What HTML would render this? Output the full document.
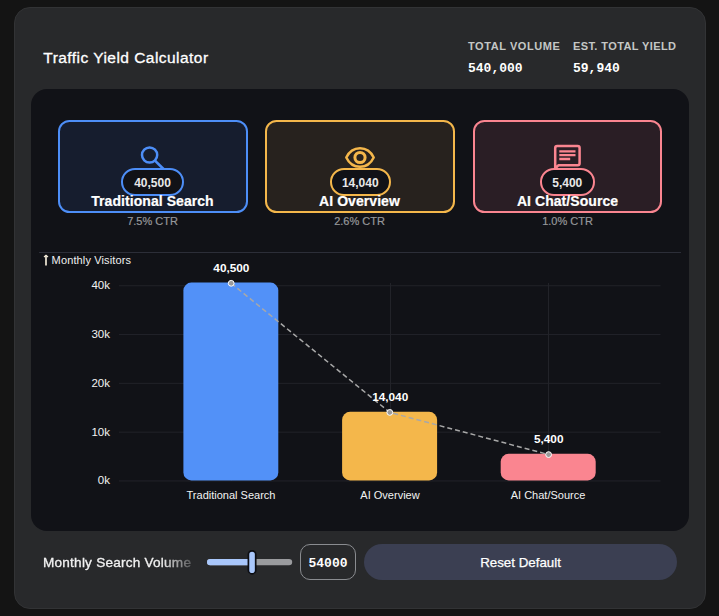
<!DOCTYPE html>
<html>
<head>
<meta charset="utf-8">
<title>Traffic Yield Calculator</title>
<style>
*{box-sizing:border-box;margin:0;padding:0}
html,body{width:719px;height:616px;overflow:hidden;background:#141414;font-family:"Liberation Sans",sans-serif;color:#fff}
.abs{position:absolute}
#card{position:absolute;left:14px;top:7px;width:692px;height:601.6px;background:#28292b;border:1px solid #323335;border-radius:16px}
#title{position:absolute;left:43.3px;top:47.6px;font-size:15.5px;line-height:20px;color:#fff;white-space:nowrap;letter-spacing:0.46px;-webkit-text-stroke:0.3px #fff}
.statlab{position:absolute;top:40px;font-size:11px;line-height:12px;font-weight:bold;color:#c4c7c5;letter-spacing:0.5px;white-space:nowrap}
.statval{position:absolute;top:61.5px;font-family:"Liberation Mono",monospace;font-weight:bold;font-size:13px;line-height:14px;color:#fff;white-space:nowrap}
#panel{position:absolute;left:31px;top:89.1px;width:658px;height:442.2px;background:#111217;border-radius:16px}
.kcard{position:absolute;top:120px;width:189.6px;height:93.3px;border:2.2px solid;border-radius:11.5px}
.pill{position:absolute;top:168px;height:28px;border:2px solid;border-radius:14px;background:#111217;font-size:12px;font-weight:bold;line-height:27px;text-align:center;color:#e8e8e8}
.ktitle{position:absolute;top:191.5px;width:189px;text-align:center;font-size:14px;line-height:18px;font-weight:bold;color:#fff;white-space:nowrap;letter-spacing:0.06px;-webkit-text-stroke:0.2px #fff}
.kctr{position:absolute;top:214.3px;width:189px;text-align:center;font-size:11px;line-height:14px;color:#96989b;white-space:nowrap;-webkit-text-stroke:0.2px #96989b}
#sep{position:absolute;left:39px;top:252px;width:642px;height:1px;background:#2c2e38}
#ylab{position:absolute;left:51.6px;top:254px;font-size:11px;line-height:13px;color:#f0f0f0;white-space:nowrap;letter-spacing:0.13px}
.ytick{position:absolute;left:60px;width:50px;text-align:right;font-size:11.5px;line-height:13px;color:#f2f2f2}
.xtick{position:absolute;top:489px;width:160px;text-align:center;font-size:11px;line-height:13px;color:#f2f2f2;white-space:nowrap}
.blab{position:absolute;width:100px;text-align:center;font-size:11.8px;line-height:13px;font-weight:bold;color:#fff}
#foot{position:absolute;left:43px;top:553.9px;font-size:13.6px;line-height:17px;color:#f2f2f2;-webkit-text-stroke:0.3px #f2f2f2;letter-spacing:0.22px;white-space:nowrap;width:148px;overflow:hidden;-webkit-mask-image:linear-gradient(90deg,#000 80%,rgba(0,0,0,.25) 100%)}
#inp{position:absolute;left:300px;top:544px;width:56px;height:36px;border:1px solid #8a8c90;border-radius:10px;font-family:"Liberation Mono",monospace;font-weight:bold;font-size:13px;line-height:38px;text-align:center;color:#fff}
#btn{position:absolute;left:364px;top:544px;width:313px;height:36px;border-radius:18px;background:#3b3f52;font-size:13.33px;line-height:37.6px;-webkit-text-stroke:0.25px #fff;text-align:center;color:#fff}
</style>
</head>
<body>
<div id="card"></div>
<div id="title">Traffic Yield Calculator</div>
<div class="statlab" style="left:468px;letter-spacing:0.57px">TOTAL VOLUME</div>
<div class="statval" style="left:468px">540,000</div>
<div class="statlab" style="left:573px;letter-spacing:0.4px">EST. TOTAL YIELD</div>
<div class="statval" style="left:573px">59,940</div>

<div id="panel"></div>

<div class="kcard" style="left:58px;border-color:#4d8ef7;background:#161d2e"></div>
<div class="kcard" style="left:265.3px;border-color:#f4b74b;background:#27221e"></div>
<div class="kcard" style="left:472.6px;border-color:#fa8590;background:#2a1e25"></div>

<svg class="abs" style="left:0;top:0" width="719" height="616" viewBox="0 0 719 616" fill="none">
  <!-- search icon -->
  <circle cx="149.6" cy="155" r="7.6" stroke="#4d8ef7" stroke-width="2.5"/>
  <path d="M155.2 160.8 L163.5 169" stroke="#4d8ef7" stroke-width="2.6" stroke-linecap="butt"/>
  <!-- eye icon -->
  <path d="M346.3 157.5 C348.8 152.2 353.4 148.2 360 148.2 C366.6 148.2 371.2 152.2 373.7 157.5 C371.2 162.8 366.6 166.8 360 166.8 C353.4 166.8 348.8 162.8 346.3 157.5 Z" stroke="#f4b74b" stroke-width="2.5" stroke-linejoin="round"/>
  <circle cx="360" cy="157.5" r="5.1" stroke="#f4b74b" stroke-width="3"/>
  <!-- chat icon -->
  <path d="M555.2 168.5 L555.2 148 Q555.2 146 557.2 146 L577.6 146 Q579.6 146 579.6 148 L579.6 163.2 Q579.6 165.2 577.6 165.2 L558.6 165.2 Z" stroke="#fa8590" stroke-width="2.5" stroke-linejoin="round"/>
  <path d="M559.3 151.3 H575.5 M559.3 155.1 H575.5 M559.3 159 H570.2" stroke="#fa8590" stroke-width="2.3"/>
</svg>

<div class="pill" style="left:121px;width:63px;border-color:#4d8ef7">40,500</div>
<div class="pill" style="left:329.5px;width:61.5px;border-color:#f4b74b">14,040</div>
<div class="pill" style="left:539.5px;width:55.5px;border-color:#fa8590">5,400</div>

<div class="ktitle" style="left:58px">Traditional Search</div>
<div class="ktitle" style="left:265px">AI Overview</div>
<div class="ktitle" style="left:473px">AI Chat/Source</div>
<div class="kctr" style="left:58px">7.5% CTR</div>
<div class="kctr" style="left:265px">2.6% CTR</div>
<div class="kctr" style="left:473px">1.0% CTR</div>

<div id="sep"></div>
<div id="ylab">Monthly Visitors</div>

<svg class="abs" style="left:0;top:0" width="719" height="616" viewBox="0 0 719 616" fill="none">
  <path d="M46 255.6V265.4" stroke="#f3ead8" stroke-width="1.7"/><path d="M44 257 L46 255.3 L48 257" stroke="#f3ead8" stroke-width="1.2" fill="none"/>
  <g stroke="#222329" stroke-width="1">
    <path d="M119 285.75H660.5M119 334.55H660.5M119 383.35H660.5M119 432.15H660.5M119 480.95H660.5"/>
    <path d="M231.5 283V481M390.5 283V481M548.5 283V481"/>
  </g>
  <rect x="183.4" y="282.6" width="94.9" height="197.8" rx="8" fill="#5291f8"/>
  <rect x="342.1" y="411.85" width="95" height="68.55" rx="8" fill="#f4b74b"/>
  <rect x="500.7" y="453.8" width="95" height="26.6" rx="8" fill="#fa8590"/>
  <path d="M231.2 283.3 L389.8 412.4 L548.6 454.6" stroke="#a8a8a8" stroke-width="1.5" stroke-dasharray="5 3"/>
  <g fill="#9a9a9a" stroke="#fff" stroke-width="1">
    <circle cx="231.2" cy="283.3" r="2.9"/><circle cx="389.8" cy="412.4" r="2.9"/><circle cx="548.6" cy="454.6" r="2.9"/>
  </g>
</svg>

<div class="ytick" style="top:279px">40k</div>
<div class="ytick" style="top:328px">30k</div>
<div class="ytick" style="top:377px">20k</div>
<div class="ytick" style="top:426px">10k</div>
<div class="ytick" style="top:474px">0k</div>

<div class="blab" style="left:181.4px;top:262px">40,500</div>
<div class="blab" style="left:340.2px;top:391px">14,040</div>
<div class="blab" style="left:498.7px;top:433px">5,400</div>

<div class="xtick" style="left:151px">Traditional Search</div>
<div class="xtick" style="left:310px">AI Overview</div>
<div class="xtick" style="left:468px">AI Chat/Source</div>

<div id="foot">Monthly Search Volume</div>
<svg class="abs" style="left:0;top:0" width="719" height="616" viewBox="0 0 719 616" fill="none">
  <rect x="207" y="558.9" width="85.2" height="6.4" rx="3.2" fill="#9a9b9e"/>
  <rect x="207" y="558.9" width="45" height="6.4" rx="3.2" fill="#a9c7fb"/>
  <rect x="248.4" y="550.8" width="7.3" height="23" rx="3.65" fill="#a9c7fb" stroke="#0c0d12" stroke-width="1.7"/>
</svg>
<div id="inp">54000</div>
<div id="btn">Reset Default</div>
</body>
</html>
